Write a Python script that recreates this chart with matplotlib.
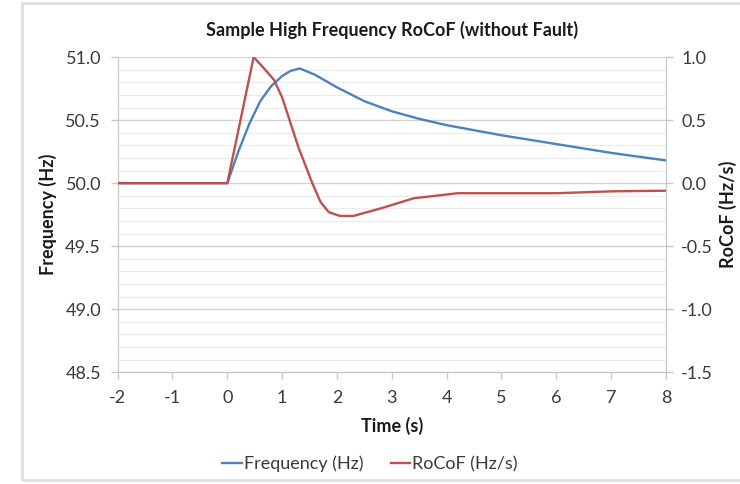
import matplotlib
matplotlib.use('Agg')
import matplotlib.pyplot as plt
import numpy as np
from matplotlib.ticker import MultipleLocator, FormatStrFormatter
from matplotlib.patches import Rectangle

plt.rcParams['font.family'] = ['Lato', 'DejaVu Sans']
plt.rcParams['axes.unicode_minus'] = False

# frequency trace (Hz)
t_freq = [-2, 0, 0.2, 0.4, 0.6, 0.8, 1.0, 1.15, 1.32, 1.6, 2.0, 2.5, 3.0,
          3.5, 4, 5, 6, 7, 8]
freq = [50.0, 50.0, 50.25, 50.47, 50.65, 50.77, 50.85, 50.89, 50.91, 50.86,
        50.76, 50.65, 50.57, 50.51, 50.46, 50.38, 50.31, 50.24, 50.18]

# rocof trace (Hz/s)
t_rocof = [-2, 0, 0.48, 0.65, 0.85, 1.0, 1.3, 1.55, 1.7, 1.85, 2.05, 2.3,
           2.8, 3.4, 4.2, 5, 6, 7, 8]
rocof = [0.0, 0.0, 1.0, 0.92, 0.82, 0.68, 0.28, 0.0, -0.15, -0.23, -0.26,
         -0.26, -0.20, -0.12, -0.08, -0.08, -0.08, -0.065, -0.06]

blue = '#4F81BD'
red = '#C0504D'
fs = 13

fig = plt.figure(figsize=(7.4, 4.84), dpi=100)
# chart frame (left/top/bottom visible, right runs off the picture)
fig.patches.append(Rectangle((22 / 740, 4 / 484), 1.0, 0.985, transform=fig.transFigure,
                             fill=False, edgecolor='#dedede', lw=2))
ax1 = fig.add_axes([0.159, 0.231, 0.741, 0.651])
ax2 = ax1.twinx()

l1, = ax1.plot(t_freq, freq, color=blue, lw=1.7, label='Frequency (Hz)', zorder=3)
l2, = ax2.plot(t_rocof, rocof, color=red, lw=1.7, label='RoCoF (Hz/s)', zorder=3)

ax1.set_xlim(-2, 8)
ax1.set_ylim(48.5, 51.0)
ax2.set_ylim(-1.5, 1.0)
ax1.xaxis.set_major_locator(MultipleLocator(1))
ax1.yaxis.set_major_locator(MultipleLocator(0.5))
ax1.yaxis.set_minor_locator(MultipleLocator(0.1))
ax2.yaxis.set_major_locator(MultipleLocator(0.5))
ax1.yaxis.set_major_formatter(FormatStrFormatter('%.1f'))
ax2.yaxis.set_major_formatter(FormatStrFormatter('%.1f'))

ax1.grid(True, which='major', axis='y', color='#d4d4d4', lw=1)
ax1.grid(True, which='minor', axis='y', color='#ebebeb', lw=0.8)
ax1.set_axisbelow(True)

for ax in (ax1, ax2):
    ax.spines['top'].set_visible(False)
    for s in ('left', 'right', 'bottom'):
        ax.spines[s].set_color('#c8c8c8')
    ax.tick_params(colors='#3a3a3a', labelsize=fs, length=5, width=1)
    ax.tick_params(axis='both', which='both', color='#c8c8c8')
ax1.tick_params(axis='y', which='minor', length=0)
ax1.tick_params(axis='y', pad=7)
ax2.tick_params(axis='y', pad=6)
ax1.tick_params(axis='x', pad=8)

ax1.set_title('Sample High Frequency RoCoF (without Fault)', fontsize=fs,
              fontweight='bold', color='#1a1a1a', pad=15)
ax1.set_xlabel('Time (s)', fontsize=fs, fontweight='bold', color='#1a1a1a', labelpad=8)
ax1.set_ylabel('Frequency (Hz)', fontsize=fs, fontweight='bold', color='#1a1a1a')
ax2.set_ylabel('RoCoF (Hz/s)', fontsize=fs, fontweight='bold', color='#1a1a1a')
ax1.yaxis.set_label_coords(-0.111, 0.5)
ax2.yaxis.set_label_coords(1.097, 0.5)

fig.legend(handles=[l1, l2], loc='center', bbox_to_anchor=(0.5, 0.042), ncol=2,
           frameon=False, fontsize=fs, handlelength=1.1, handletextpad=0.1,
           columnspacing=1.5, labelcolor='#3a3a3a')

fig.savefig('out.png', dpi=100)
